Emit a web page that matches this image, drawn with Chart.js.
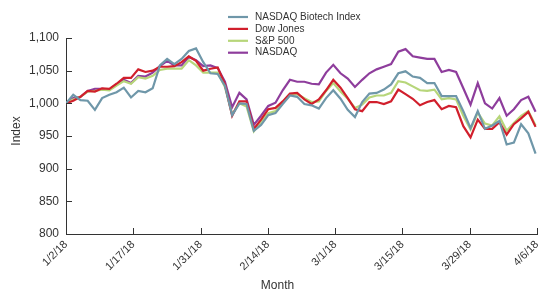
<!DOCTYPE html>
<html>
<head>
<meta charset="utf-8">
<script src="https://cdn.jsdelivr.net/npm/chart.js@4/dist/chart.umd.min.js"></script>
<style>
  html, body { margin: 0; padding: 0; background: #fff; }
</style>
</head>
<body>
<canvas id="indexChart" width="538" height="291"></canvas>
<script>
// Tick labels along the x axis (evenly spaced over the trading days)
const tickLabels = ["1/2/18", "1/17/18", "1/31/18", "2/14/18", "3/1/18", "3/15/18", "3/29/18", "4/6/18"];

// Index values, one per trading day (start = 1,000)
const biotech = [1000, 1013, 1005, 1004, 990, 1008, 1013, 1017, 1024, 1009,
  1019, 1017, 1023, 1058, 1068, 1060, 1068, 1080, 1084, 1063,
  1046, 1045, 1027, 982, 1000, 999, 958, 967, 982, 985,
  999, 1012, 1010, 999, 997, 992, 1008, 1020, 1007, 990,
  979, 1002, 1015, 1016, 1021, 1029, 1046, 1049, 1041, 1039,
  1031, 1031, 1011, 1011, 1011, 988, 962, 988, 961, 966,
  973, 937, 940, 968, 954, 923];

const dow = [1000, 1004, 1010, 1019, 1018, 1023, 1022, 1030, 1039, 1039,
  1052, 1048, 1050, 1056, 1056, 1057, 1063, 1072, 1065, 1050,
  1053, 1055, 1029, 981, 1003, 1003, 961, 975, 991, 993,
  1003, 1015, 1016, 1006, 999, 1006, 1020, 1036, 1024, 1008,
  991, 988, 1002, 1002, 999, 1003, 1021, 1014, 1007, 997,
  1002, 1005, 991, 996, 994, 965, 948, 975, 961, 961,
  971, 952, 968, 977, 987, 964];

const sp500 = [1000, 1006, 1010, 1018, 1019, 1021, 1020, 1027, 1034, 1030,
  1040, 1038, 1042, 1051, 1053, 1053, 1053, 1066, 1058, 1047,
  1047, 1047, 1025, 983, 1000, 995, 957, 972, 985, 988,
  1001, 1013, 1014, 1008, 1002, 1003, 1019, 1031, 1018, 1007,
  993, 998, 1009, 1012, 1012, 1016, 1034, 1032, 1026, 1020,
  1019, 1021, 1006, 1008, 1006, 981, 960, 986, 969, 966,
  980, 958, 970, 981, 988, 966];

const nasdaq = [1000, 1008, 1010, 1019, 1022, 1022, 1021, 1029, 1036, 1031,
  1042, 1041, 1047, 1057, 1065, 1058, 1058, 1071, 1066, 1057,
  1058, 1054, 1033, 994, 1016, 1006, 967, 981, 996, 1001,
  1020, 1036, 1033, 1033, 1030, 1029, 1047, 1059, 1046, 1038,
  1025, 1036, 1046, 1052, 1056, 1060, 1079, 1083, 1072, 1070,
  1068, 1068, 1048, 1051, 1048, 1023, 998, 1031, 1000, 992,
  1008, 981, 991, 1005, 1010, 987];

const seriesNames = ["NASDAQ Biotech Index", "Dow Jones", "S&P 500", "NASDAQ"];
const seriesColors = ["#6f97a9", "#d11f2c", "#b7d67a", "#8e3d9c"];

const axisColor = "#333";
const fontFamily = "'Liberation Sans', Arial, sans-serif";
const xMax = 65.2;

const toPoints = (arr) => arr.map((v, i) => ({ x: i, y: v }));

// Inward tick marks, axis titles and the stacked legend
const decorations = {
  id: "decorations",
  afterDraw(chart) {
    const { ctx, chartArea, scales } = chart;
    ctx.save();
    ctx.strokeStyle = axisColor;
    ctx.lineWidth = 1;
    ctx.beginPath();
    scales.x.ticks.forEach((t) => {
      const px = Math.round(scales.x.getPixelForValue(t.value)) + 0.5;
      ctx.moveTo(px, chartArea.bottom);
      ctx.lineTo(px, chartArea.bottom - 6);
    });
    scales.y.ticks.forEach((t) => {
      const py = Math.round(scales.y.getPixelForValue(t.value)) + 0.5;
      ctx.moveTo(chartArea.left, py);
      ctx.lineTo(chartArea.left + 6, py);
    });
    ctx.stroke();

    // axis titles
    ctx.fillStyle = axisColor;
    ctx.font = "12px " + fontFamily;
    ctx.textAlign = "center";
    ctx.textBaseline = "middle";
    ctx.fillText("Month", (chartArea.left + chartArea.right) / 2 - 24, 286);
    ctx.save();
    ctx.translate(17, (chartArea.top + chartArea.bottom) / 2 - 5);
    ctx.rotate(-Math.PI / 2);
    ctx.fillText("Index", 0, 0);
    ctx.restore();

    // legend
    ctx.font = "10px " + fontFamily;
    ctx.textAlign = "left";
    chart.data.datasets.forEach((ds, i) => {
      const y = 17 + i * 11.9;
      ctx.strokeStyle = ds.borderColor;
      ctx.lineWidth = 2.2;
      ctx.beginPath();
      ctx.moveTo(228, y);
      ctx.lineTo(248, y);
      ctx.stroke();
      ctx.fillStyle = axisColor;
      ctx.fillText(ds.label, 255, y);
    });
    ctx.restore();
  }
};

const seriesData = [biotech, dow, sp500, nasdaq];

new Chart(document.getElementById("indexChart"), {
  type: "line",
  data: {
    datasets: seriesData.map((arr, i) => ({
      label: seriesNames[i],
      data: toPoints(arr),
      borderColor: seriesColors[i],
      backgroundColor: seriesColors[i],
      borderWidth: 2.2,
      pointRadius: 0,
      tension: 0,
      fill: false,
      order: i
    }))
  },
  options: {
    responsive: false,
    animation: false,
    devicePixelRatio: 1,
    layout: { padding: { top: 38, right: 1, left: 0, bottom: 0 } },
    plugins: {
      legend: { display: false },
      tooltip: { enabled: false }
    },
    scales: {
      x: {
        type: "linear",
        min: 0,
        max: xMax,
        grid: { drawOnChartArea: false, drawTicks: false },
        border: { display: true, color: axisColor, width: 1 },
        afterBuildTicks: (scale) => {
          scale.ticks = tickLabels.map((_, k) => ({ value: (k * xMax) / 7 }));
        },
        afterFit: (scale) => {
          scale.height = 57;
          scale.paddingLeft = 0;
          scale.paddingRight = 0;
        },
        ticks: {
          autoSkip: false,
          minRotation: 45,
          maxRotation: 45,
          padding: 4,
          color: axisColor,
          font: { size: 11, family: fontFamily },
          callback: (val, idx) => tickLabels[idx]
        }
      },
      y: {
        min: 800,
        max: 1100,
        grid: { drawOnChartArea: false, drawTicks: false },
        border: { display: true, color: axisColor, width: 1 },
        afterFit: (scale) => { scale.width = 66; },
        ticks: {
          stepSize: 50,
          padding: 7,
          color: axisColor,
          font: { size: 12, family: fontFamily },
          callback: (v) => v.toLocaleString("en-US")
        }
      }
    }
  },
  plugins: [decorations]
});
</script>
</body>
</html>
